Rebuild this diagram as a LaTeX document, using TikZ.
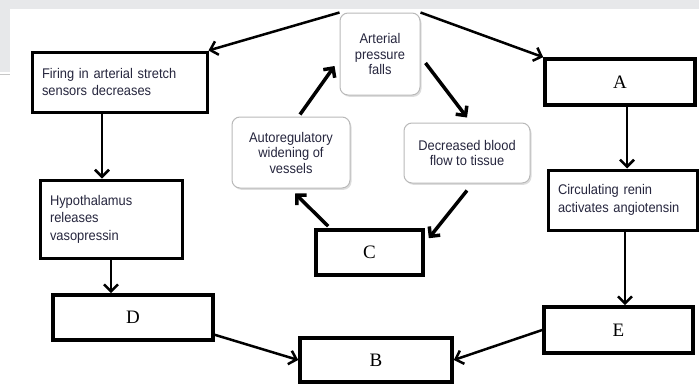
\documentclass[tikz,border=0pt]{standalone}
\usepackage{fontspec}
\setmainfont{Liberation Serif}
\newfontfamily\boxfont[FakeStretch=0.92]{Liberation Sans}
\usetikzlibrary{arrows.meta,shadows,calc}
\definecolor{bggrey}{RGB}{231,232,234}
\definecolor{edgegrey}{RGB}{185,185,185}
\definecolor{txtcol}{RGB}{38,38,62}
\tikzset{
  plainbox/.style={draw=black, line width=3.6pt, fill=white, inner sep=0pt, font=\fontsize{19}{21}\selectfont},
  textbox/.style={draw=black, line width=3pt, fill=white, inner xsep=10pt, inner ysep=0pt,
     align=left, text=txtcol, font=\boxfont\fontsize{14}{17.5}\selectfont},
  roundbox/.style={draw=edgegrey, line width=1pt, fill=white, rounded corners=8pt, align=center,
     text=txtcol, font=\boxfont\fontsize{14}{15.5}\selectfont,
     drop shadow={shadow xshift=1.5pt, shadow yshift=-1.8pt, fill=black!22, opacity=0.6}},
  flow/.style={draw=black, line width=2.5pt, -{Straight Barb[length=7pt,width=14pt]}},
  cyc/.style={draw=black, line width=3.5pt, -{Straight Barb[length=7pt,width=14pt]}}
}
\begin{document}
\begin{tikzpicture}[x=1pt,y=-1pt]
\useasboundingbox (0,0) rectangle (699,383);
% background
\fill[bggrey] (0,0) rectangle (699,9);
\fill[bggrey] (0,0) rectangle (10,72);
\draw[black!22, line width=1.2pt] (0,74.5) -- (10,74.5);

% text boxes
\node[textbox, minimum width=175pt, minimum height=60pt, text width=155pt] (fire) at (119.5,82)
  {Firing in arterial stretch\\sensors decreases};
\node[textbox, minimum width=142pt, minimum height=78pt, text width=122pt] (hypo) at (111,219)
  {Hypothalamus\\releases\\vasopressin};
\node[textbox, minimum width=149pt, minimum height=60pt, text width=129pt] (circ) at (622.5,200)
  {Circulating renin\\activates angiotensin};

% letter boxes
\node[plainbox, minimum width=150pt, minimum height=46pt] (A) at (620,82) {A};
\node[plainbox, minimum width=152pt, minimum height=44pt] (B) at (376,360) {B};
\node[plainbox, minimum width=107pt, minimum height=45pt] (C) at (369.5,252.5) {C};
\node[plainbox, minimum width=160pt, minimum height=45pt] (D) at (133,317.5) {D};
\node[plainbox, minimum width=149pt, minimum height=46pt] (E) at (618.5,330) {E};

% rounded boxes
\node[roundbox, minimum width=80pt, minimum height=82pt] (art) at (380,54)
  {Arterial\\pressure\\falls};
\node[roundbox, minimum width=118pt, minimum height=71pt] (auto) at (291,152.5)
  {Autoregulatory\\widening of\\vessels};
\node[roundbox, minimum width=126pt, minimum height=60pt] (dec) at (467,153)
  {Decreased blood\\flow to tissue};

% connectors
\draw[flow] (art.north west) -- (fire.north east);
\draw[flow] (art.north east) -- (A.north west);
\draw[cyc] ([xshift=5pt,yshift=-9pt]art.east) -- ([yshift=5pt]dec.north);
\draw[cyc] ([yshift=-7pt]dec.south) -- ([xshift=4pt,yshift=-10pt]C.north east);
\draw[cyc] ([xshift=14pt,yshift=2pt]C.north west) -- ([xshift=4pt,yshift=-5pt]auto.north |- auto.south);
\draw[cyc] ([xshift=9pt,yshift=2pt]auto.north) -- ([xshift=-5pt,yshift=-12pt]art.west);
\draw[flow] ([xshift=-17.5pt]fire.south) -- ([xshift=-17.5pt]fire.south |- hypo.north);
\draw[flow] (hypo.south) -- (hypo.south |- D.north);
\draw[flow] ([xshift=7pt]A.south) -- ([xshift=7pt]A.south |- circ.north);
\draw[flow] ([xshift=2.5pt]circ.south) -- ([xshift=2.5pt]circ.south |- E.north);
\draw[flow] ([yshift=7pt]D.south east) -- (B.west);
\draw[flow] (E.west) -- (B.east);
\end{tikzpicture}
\end{document}
